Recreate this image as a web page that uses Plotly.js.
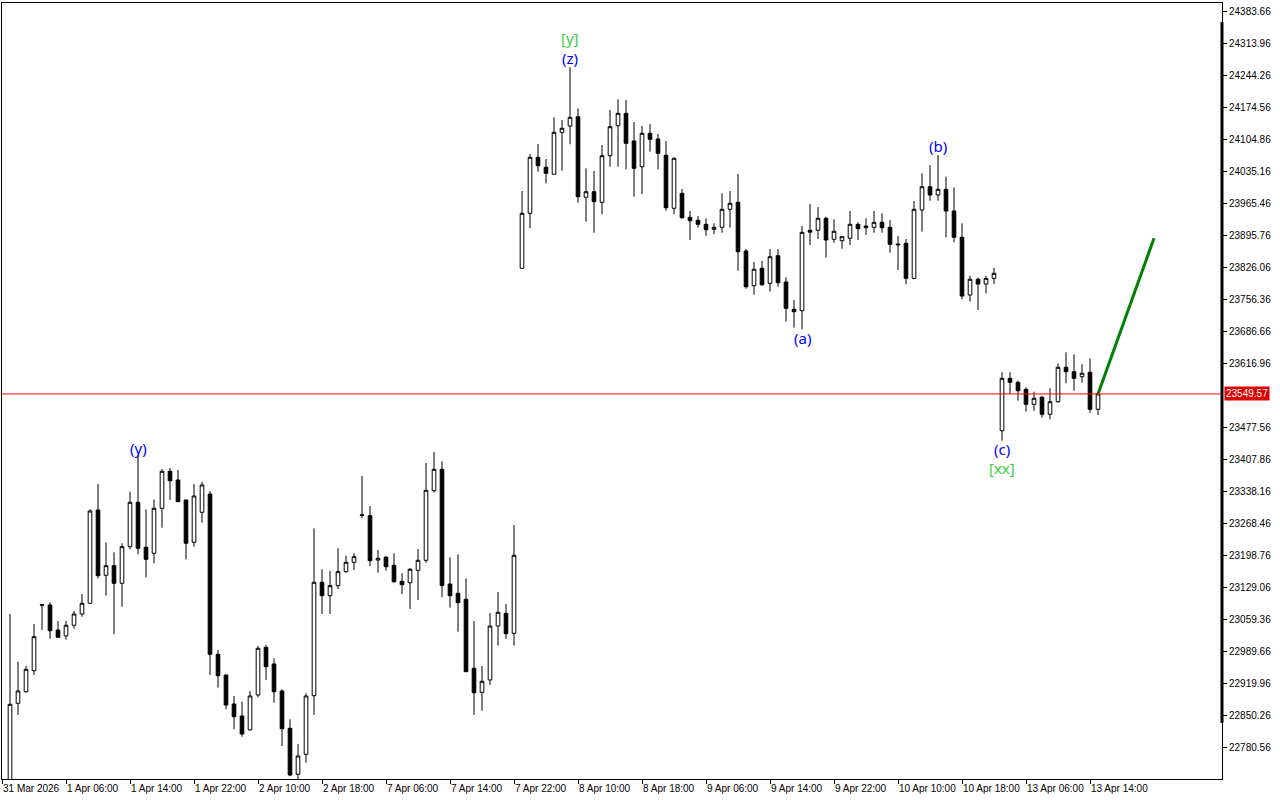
<!DOCTYPE html>
<html>
<head>
<meta charset="utf-8">
<script src="https://cdn.plot.ly/plotly-3.0.1.min.js"></script>
<style>
html,body{margin:0;padding:0;background:#fff;}
#chart{width:1280px;height:800px;}
</style>
</head>
<body>
<div id="chart"></div>
<script>
// Hourly OHLC candles (index 0 = first visible bar)
const openP = [22698,22875.8,22901.0,22946.8,23090.5,23089.9,23035.5,23022.4,23045.7,23070.3,
23093.6,23296.8,23154.6,23175.5,23137.2,23216.9,23313.6,23215.6,23202.5,23300.5,
23381.1,23362.2,23318.6,23226.4,23291.8,23331.6,22982.5,22937.4,22874.3,22848.1,
22817.7,22893.9,22997.8,22961.4,22902.6,22821.3,22721.1,22764.7,22892.3,23139.3,
23110.2,23132.0,23162.5,23182.9,23286.5,23284.4,23187.8,23193.8,23176.3,23141.5,
23138.4,23165.4,23187.2,23338.8,23385.4,23135.6,23115.4,23102.3,22952.0,22899.7,
22926.6,23044.1,23071.8,23028.2,23823.2,23943.0,24065.0,24043.2,24028.0,24119.4,
24133.2,24153.4,23977.9,23990.1,23967.0,24068.5,24133.8,24160.8,24100.5,24044.5,
24117.3,24104.9,24069.4,23953.9,23986.6,23934.3,23927.8,23919.1,23908.2,23912.5,
23951.7,23967.0,23860.9,23785.3,23823.2,23790.5,23850.7,23793.4,23733.9,23730.9,
23906.0,23906.0,23932.1,23886.4,23883.4,23888.6,23919.1,23915.4,23912.5,23923.4,
23912.5,23876.0,23877.7,23801.4,23950.2,24000.9,23982.9,23995.3,23948.0,23890.8,
23765.1,23799.3,23789.0,23801.4,23469.5,23583.6,23574.9,23559.7,23527.0,23542.3,
23505.3,23532.7,23607.6,23598.0,23587.1,23596.7,23516.1];
const highP = [23070.3,22966.4,22957.0,23048.5,23091.5,23095.8,23055.0,23055.0,23076.8,23113.9,
23298.3,23353.4,23226.4,23204.7,23224.3,23336.7,23416.6,23298.3,23320.1,23386.1,
23388.3,23383.9,23320.0,23353.4,23358.4,23338.2,22991.9,22938.0,22891.7,22879.3,
22902.6,23000.6,23002.8,22973.8,22906.3,22840.9,22787.2,22897.5,23256.9,23167.6,
23164.0,23213.4,23197.3,23202.5,23370.9,23305.5,23209.6,23196.6,23202.5,23158.9,
23170.5,23211.8,23399.2,23423.1,23402.9,23193.8,23200.3,23148.0,23055.0,22957.0,
23072.5,23118.2,23092.1,23264.1,23991.6,24072.2,24094.0,24061.3,24152.1,24146.2,
24261.0,24171.7,24041.0,24035.2,24091.8,24168.0,24191.3,24189.8,24141.9,24133.2,
24137.5,24115.7,24100.5,24065.0,23996.0,23948.0,23937.1,23932.1,23921.2,23986.6,
23991.6,24028.6,23865.3,23836.9,23839.1,23865.3,23865.3,23803.6,23754.2,23915.4,
23963.3,23956.7,23935.6,23930.0,23892.1,23948.0,23923.4,23932.1,23948.0,23943.0,
23928.4,23893.6,23887.1,23969.8,24030.1,24048.2,24070.0,24022.7,23999.6,23921.2,
23807.1,23802.8,23806.5,23824.5,23596.7,23596.7,23578.4,23564.0,23554.5,23545.1,
23561.9,23616.3,23640.3,23635.9,23614.2,23627.2,23553.2];
const lowP = [22690,22850.3,22898.8,22937.4,23035.5,23016.4,23019.5,23014.3,23038.3,23064.4,
23093.0,23148.0,23110.2,23026.1,23086.2,23211.2,23200.3,23150.2,23180.7,23258.2,
23318.6,23314.0,23189.4,23216.9,23269.0,22937.4,22909.8,22862.7,22819.2,22803.0,
22817.0,22888.9,22926.6,22877.0,22782.7,22717.0,22710.9,22746.4,22850.3,23070.3,
23070.3,23124.8,23160.2,23166.1,23278.7,23174.8,23160.2,23164.6,23138.4,23113.9,
23081.2,23100.8,23182.0,23334.5,23106.7,23084.0,23031.7,22944.0,22850.3,22859.7,
22915.6,23001.3,23015.8,23001.3,23823.0,23910.4,24033.6,24008.4,24028.0,24035.8,
24093.3,23966.1,23924.7,23900.8,23940.9,24044.5,24044.5,24038.9,23979.2,23985.1,
24077.2,24038.9,23948.7,23940.9,23931.3,23884.9,23911.7,23894.2,23897.3,23900.8,
23911.7,23818.0,23778.8,23765.7,23784.7,23772.3,23783.2,23706.9,23693.9,23690.4,
23874.0,23887.1,23846.3,23879.0,23865.9,23874.0,23884.9,23895.8,23900.8,23900.8,
23857.2,23819.5,23788.4,23799.3,23903.0,23970.5,23970.5,23890.8,23879.9,23755.7,
23750.5,23732.4,23768.8,23789.0,23447.7,23549.5,23535.0,23510.9,23513.0,23497.8,
23494.3,23530.5,23572.8,23556.6,23574.0,23508.7,23503.7];
const closeP = [22873.6,22902.6,22949.8,23020.9,23089.5,23033.9,23019.5,23045.7,23070.3,23093.6,
23294.6,23153.7,23175.5,23137.2,23216.9,23313.6,23213.4,23189.4,23300.5,23381.1,
23360.6,23314.9,23224.3,23327.3,23351.3,22982.5,22935.9,22872.0,22846.6,22808.9,
22891.7,22995.6,22955.5,22901.0,22820.5,22719.6,22761.0,22891.7,23139.3,23110.2,
23132.0,23162.5,23182.9,23195.1,23285.0,23186.4,23191.6,23173.3,23140.6,23134.1,
23167.6,23187.2,23339.7,23385.4,23132.0,23110.2,23094.9,22944.6,22898.8,22923.7,
23044.1,23074.0,23027.4,23198.1,23943.0,24065.0,24046.7,24030.2,24119.4,24128.2,
24152.1,23979.2,23990.1,23968.3,24068.5,24131.7,24160.8,24095.5,24041.0,24117.3,
24104.2,24073.7,23955.2,24062.8,23933.4,23926.9,23919.1,23907.3,23912.5,23951.7,
23964.8,23859.4,23783.2,23821.1,23787.5,23848.5,23791.9,23736.1,23728.7,23901.6,
23902.0,23932.1,23884.9,23903.8,23892.1,23919.1,23909.5,23911.7,23923.4,23911.7,
23875.5,23874.5,23801.4,23951.7,24000.9,23982.9,23995.3,23948.0,23890.8,23762.9,
23799.3,23789.0,23801.4,23812.3,23583.6,23574.9,23556.6,23527.0,23540.1,23505.3,
23532.7,23607.6,23598.0,23583.6,23594.6,23516.1,23549.57];

// Time axis labels (bar index where each label sits)
const tickPos = [-1,7,15,23,31,39,47,55,63,71,79,87,95,103,111,119,127,135];
const tickLabels = ["31 Mar 2026","1 Apr 06:00","1 Apr 14:00","1 Apr 22:00","2 Apr 10:00","2 Apr 18:00",
"7 Apr 06:00","7 Apr 14:00","7 Apr 22:00","8 Apr 10:00","8 Apr 18:00","9 Apr 06:00","9 Apr 14:00",
"9 Apr 22:00","10 Apr 10:00","10 Apr 18:00","13 Apr 06:00","13 Apr 14:00"];

// Price scale labels
const priceTicks = [24383.66,24313.96,24244.26,24174.56,24104.86,24035.16,23965.46,23895.76,23826.06,
23756.36,23686.66,23616.96,23477.56,23407.86,23338.16,23268.46,23198.76,23129.06,23059.36,
22989.66,22919.96,22850.26,22780.56];
const currentPrice = 23549.57;
// extent of the darker price-scale bar
const scaleBarTop = 24359.7;
const scaleBarBottom = 22833.0;

// Elliott wave labels
const waveText  = ["[y]","(z)","(y)","(a)","(b)","(c)","[xx]"];
const waveBar   = [70,70,16,99,116,124,124];
const wavePrice = [24324.8,24281.3,23431.8,23671.4,24089.6,23429.6,23388.2];
const waveColor = ["#3ccf3c","#0000ff","#0000ff","#0000ff","#0000ff","#0000ff","#3ccf3c"];

// Forecast line
const forecastBar = [136,143];
const forecastPrice = [23549.57,23888.6];

const barIdx = openP.map((_, i) => i);

const candles = {
  type: 'candlestick',
  x: barIdx, open: openP, high: highP, low: lowP, close: closeP,
  increasing: {line: {color: '#000000', width: 1}, fillcolor: '#ffffff'},
  decreasing: {line: {color: '#000000', width: 1}, fillcolor: '#000000'},
  whiskerwidth: 0,
  hoverinfo: 'skip',
  showlegend: false
};
const forecast = {
  type: 'scatter', mode: 'lines',
  x: forecastBar, y: forecastPrice,
  line: {color: '#008000', width: 3},
  hoverinfo: 'skip', showlegend: false
};

const annotations = waveText.map((t, i) => ({
  x: waveBar[i], y: wavePrice[i], xref: 'x', yref: 'y',
  text: t, showarrow: false, xanchor: 'center', yanchor: 'middle',
  font: {family: 'Noto Sans, Open Sans, sans-serif', size: 15, color: waveColor[i]}
}));
annotations.push({
  x: 1, y: currentPrice, xref: 'paper', yref: 'y', xanchor: 'left', yanchor: 'middle',
  xshift: 2, text: currentPrice.toFixed(2), showarrow: false,
  bgcolor: '#dd0000', borderpad: 1,
  font: {family: 'Liberation Sans, Arial, sans-serif', size: 10, color: '#ffffff'}
});

const layout = {
  width: 1280, height: 800,
  margin: {l: 2, r: 58, t: 3, b: 21},
  paper_bgcolor: '#ffffff', plot_bgcolor: '#ffffff',
  showlegend: false,
  boxgap: 0.35,
  xaxis: {
    type: 'linear', range: [-1, 151.5], rangeslider: {visible: false},
    tickvals: tickPos, ticktext: tickLabels, tickangle: 0,
    ticks: 'outside', ticklen: 4, tickcolor: '#000', tickwidth: 1,
    ticklabelposition: 'outside right',
    showgrid: false, zeroline: false,
    showline: true, mirror: true, linecolor: '#000', linewidth: 1,
    tickfont: {family: 'Liberation Sans, Arial, sans-serif', size: 10, color: '#000'},
    fixedrange: true
  },
  yaxis: {
    side: 'right', range: [22710.89, 24401.09],
    tickvals: priceTicks, ticktext: priceTicks.map(v => v.toFixed(2)),
    ticks: 'outside', ticklen: 4, tickcolor: '#000', tickwidth: 1,
    showgrid: false, zeroline: false,
    showline: true, mirror: true, linecolor: '#000', linewidth: 1,
    tickfont: {family: 'Liberation Sans, Arial, sans-serif', size: 10, color: '#000'},
    fixedrange: true
  },
  shapes: [
    {type: 'line', xref: 'paper', yref: 'y', x0: 0, x1: 1, y0: currentPrice, y1: currentPrice,
     line: {color: '#ff0000', width: 1}},
    {type: 'line', xref: 'paper', yref: 'y', x0: 1, x1: 1, y0: scaleBarBottom, y1: scaleBarTop,
     line: {color: '#000000', width: 3}}
  ],
  annotations: annotations
};

Plotly.newPlot('chart', [candles, forecast], layout, {displayModeBar: false, staticPlot: true});
</script>
</body>
</html>
